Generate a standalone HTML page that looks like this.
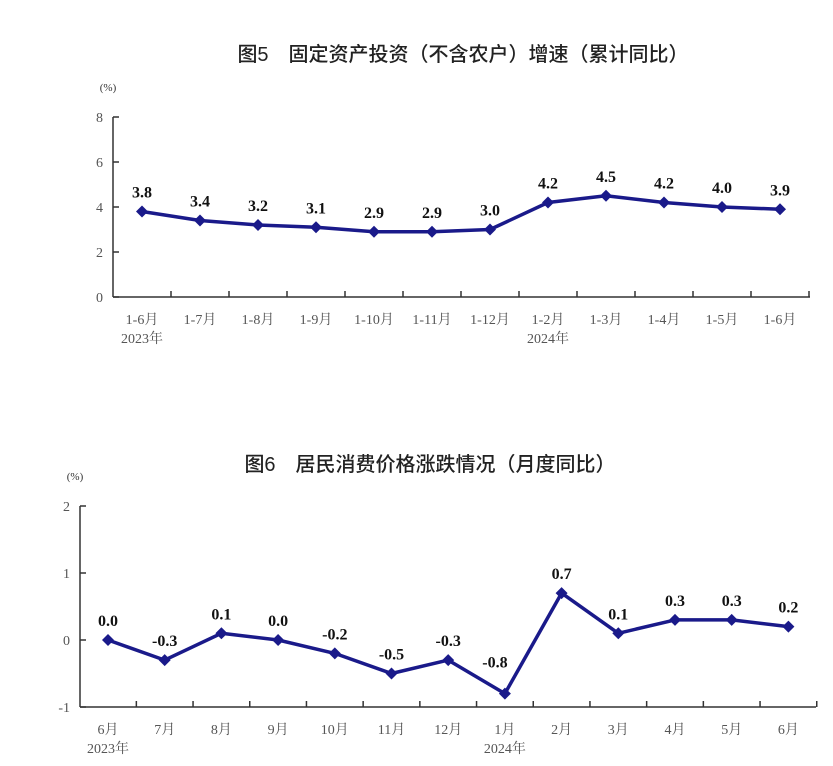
<!DOCTYPE html>
<html><head><meta charset="utf-8"><style>
body{margin:0;background:#fff;width:833px;height:766px;overflow:hidden}
svg{display:block}
text{font-family:"Liberation Serif","Noto Serif CJK SC",serif;fill:#333}
.t{font-family:"Liberation Sans","Noto Sans CJK SC",sans-serif;font-size:20px;fill:#222;font-weight:500}
.v{font-weight:bold;font-size:16px;fill:#111}
.ax{font-size:14px;fill:#555}
</style></head><body>
<svg id="s" width="833" height="766" xmlns="http://www.w3.org/2000/svg">
<text class="t" x="463" y="61" text-anchor="middle">图5　固定资产投资（不含农户）增速（累计同比）</text>
<text class="t" x="430" y="471" text-anchor="middle">图6　居民消费价格涨跌情况（月度同比）</text>
</svg>
<script>
var s=document.getElementById('s'),NS='http://www.w3.org/2000/svg';
function el(n,a,t){var e=document.createElementNS(NS,n);for(var k in a)e.setAttribute(k,a[k]);if(t!=null)e.textContent=t;s.appendChild(e);return e;}
function chart(o){
 var y=function(v){return o.y0-(v-o.min)*o.k;};
 el('text',{x:o.ax-5,y:y(o.max)-26,'font-size':11,fill:'#555','text-anchor':'middle'},'(%)');
 el('line',{x1:o.ax,y1:y(o.max),x2:o.ax,y2:o.y0,stroke:'#333','stroke-width':1.5});
 el('line',{x1:o.ax,y1:o.y0,x2:o.right,y2:o.y0,stroke:'#333','stroke-width':1.5});
 for(var v=o.min;v<=o.max;v+=o.step){el('line',{x1:o.ax,y1:y(v),x2:o.ax+6,y2:y(v),stroke:'#333','stroke-width':1.5});
  el('text',{x:o.ax-10,y:y(v)+5,'text-anchor':'end','class':'ax'},v);}
 var n=o.d.length,pts=[];
 for(var i=0;i<n;i++){var x=o.x0+i*o.dx;pts.push(x+','+y(o.d[i]));
  var tx=x+o.dx/2; el('line',{x1:tx,y1:o.y0,x2:tx,y2:o.y0-6,stroke:'#333','stroke-width':1.5});
  el('text',{x:x,y:o.y0+27,'text-anchor':'middle','class':'ax'},o.l[i]);}
 el('text',{x:o.x0,y:o.y0+46,'text-anchor':'middle','class':'ax'},'2023年');
 el('text',{x:o.x0+o.yi*o.dx,y:o.y0+46,'text-anchor':'middle','class':'ax'},'2024年');
 el('polyline',{points:pts.join(' '),fill:'none',stroke:'#1a1a8a','stroke-width':3.5,'stroke-linejoin':'round'});
 for(i=0;i<n;i++){var x=o.x0+i*o.dx,yy=y(o.d[i]);
  el('polygon',{points:(x-6)+','+yy+' '+x+','+(yy-6)+' '+(x+6)+','+yy+' '+x+','+(yy+6),fill:'#1a1a8a'});
  var lx=x,ly=yy-14;
  if(o.off&&o.off[i]){lx+=o.off[i][0];ly+=o.off[i][1];}
  el('text',{x:lx,y:ly,'text-anchor':'middle','class':'v'},o.d[i].toFixed(1));}
}
chart({ax:113,y0:297,min:0,max:8,step:2,k:22.5,x0:142,dx:58,right:810,yi:7,
 d:[3.8,3.4,3.2,3.1,2.9,2.9,3.0,4.2,4.5,4.2,4.0,3.9],
 l:['1-6月','1-7月','1-8月','1-9月','1-10月','1-11月','1-12月','1-2月','1-3月','1-4月','1-5月','1-6月']});
chart({ax:80,y0:707,min:-1,max:2,step:1,k:67,x0:108,dx:56.7,right:816,yi:7,
 d:[0.0,-0.3,0.1,0.0,-0.2,-0.5,-0.3,-0.8,0.7,0.1,0.3,0.3,0.2],
 off:{7:[-10,-12]},
 l:['6月','7月','8月','9月','10月','11月','12月','1月','2月','3月','4月','5月','6月']});
</script>
</body></html>
